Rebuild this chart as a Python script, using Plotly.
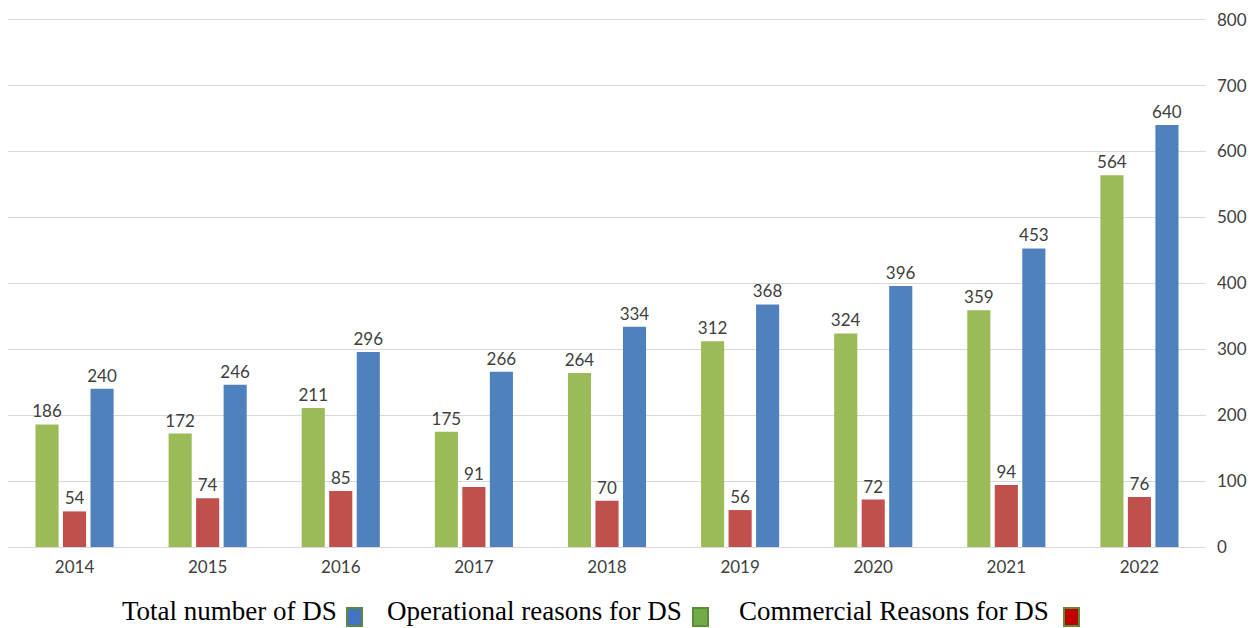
import plotly.graph_objects as go

years = ["2014", "2015", "2016", "2017", "2018", "2019", "2020", "2021", "2022"]
operational = [186, 172, 211, 175, 264, 312, 324, 359, 564]
commercial = [54, 74, 85, 91, 70, 56, 72, 94, 76]
total = [240, 246, 296, 266, 334, 368, 396, 453, 640]

series_names = ["Operational reasons for DS", "Commercial Reasons for DS", "Total number of DS"]
series_colors = ["#9BBB59", "#C0504D", "#4F81BD"]
y_ticks = [0, 100, 200, 300, 400, 500, 600, 700, 800]

W, H = 1260, 628
ML, MR, MT, MB = 8, 54, 17, 81
PW, PH = W - ML - MR, H - MT - MB


def px_x(px):
    return (px - ML) / PW


def px_y(py):
    return (H - MB - py) / PH


fig = go.Figure()
for name, vals, col in zip(series_names, [operational, commercial, total], series_colors):
    fig.add_trace(go.Bar(
        x=years, y=vals, name=name,
        marker=dict(color=col, line=dict(width=0)),
        text=vals, textposition="outside", cliponaxis=False,
        constraintext="none",
        textfont=dict(family="Lato, Open Sans, sans-serif", size=17, color="#404040"),
        showlegend=False,
    ))

fig.update_layout(
    width=W, height=H,
    margin=dict(l=ML, r=MR, t=MT, b=MB),
    paper_bgcolor="white", plot_bgcolor="white",
    barmode="group", bargap=0.38, bargroupgap=0.16,
    font=dict(family="Lato, Open Sans, sans-serif", color="#404040"),
    xaxis=dict(
        showgrid=False, showline=False, zeroline=False,
        tickfont=dict(size=17, color="#404040"), ticks="",
        ticklabelstandoff=8,
    ),
    yaxis=dict(
        side="right", range=[0, 804], tickvals=y_ticks,
        showgrid=True, gridcolor="#D9D9D9", gridwidth=1,
        zeroline=True, zerolinecolor="#D9D9D9", zerolinewidth=1,
        showline=False, ticks="",
        tickfont=dict(size=17, color="#404040"),
        ticklabelstandoff=10,
    ),
)

# Custom legend (text followed by swatch, as in the original)
legend_items = [
    ("Total number of DS", 120, 347, 362, "#4472C4"),
    ("Operational reasons for DS", 385, 693, 708, "#70AD47"),
    ("Commercial Reasons for DS", 737, 1064, 1079, "#C00000"),
]
for label, tx, sx0, sx1, col in legend_items:
    fig.add_annotation(
        x=px_x(tx), y=px_y(611), xref="paper", yref="paper",
        xanchor="left", yanchor="middle", showarrow=False,
        text=label,
        font=dict(family="Liberation Serif, Times New Roman, serif", size=27, color="#000000"),
    )
    fig.add_shape(
        type="rect", xref="paper", yref="paper",
        x0=px_x(sx0), x1=px_x(sx1), y0=px_y(626), y1=px_y(608),
        fillcolor=col, line=dict(color="#5E8A3C", width=2),
    )

fig.write_html("out.html")
